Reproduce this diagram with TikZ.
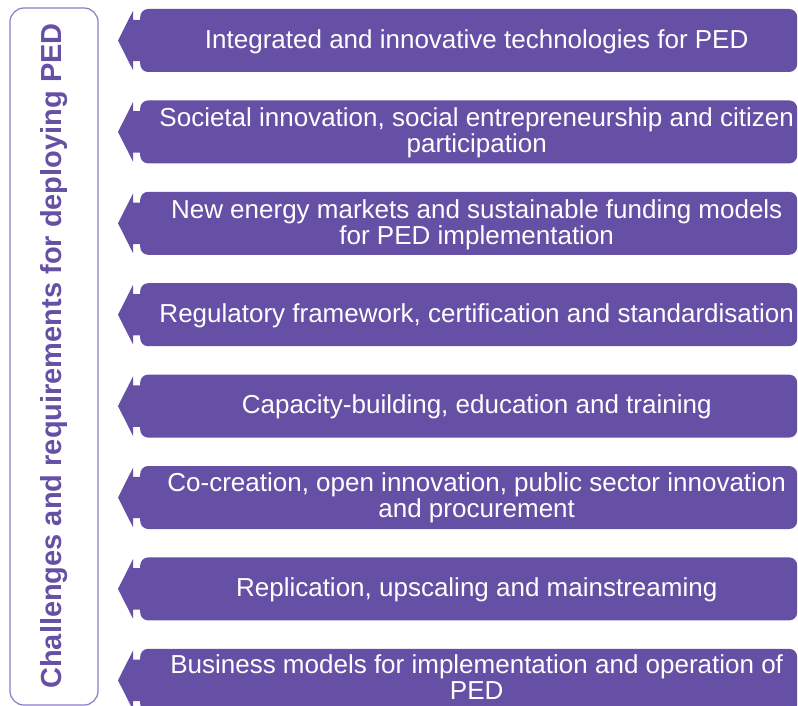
\documentclass[tikz,border=0pt]{standalone}
\usepackage{fontspec}
\setmainfont{Liberation Sans}
\usetikzlibrary{positioning}

\definecolor{pedpurple}{HTML}{6650A5}
\definecolor{pedframe}{HTML}{8A7BC8}

\tikzset{
	challenge/.style={fill=pedpurple, rounded corners=8pt, minimum width=657pt, minimum height=63pt,
		inner sep=0pt, anchor=west},
	challenge text/.style={text=white, align=center, inner sep=0pt, font=\fontsize{26}{26}\selectfont},
}

\begin{document}
\begin{tikzpicture}[x=1pt, y=-1pt]
		\useasboundingbox (0,0) rectangle (798,706);
		
		% frame with the vertical title
		\draw[pedframe, line width=1.2pt, rounded corners=14pt] (10,8) rectangle (98,705);
		\node[rotate=90, anchor=base, text=pedpurple, font=\fontsize{29}{32}\selectfont\bfseries] (title) at (61,356) {Challenges and requirements for deploying PED};
		
		% banners, top to bottom
		\node[challenge] (b1) at (140,40.5) {};
		\node[challenge, below=28pt of b1] (b2) {};
		\node[challenge, below=28pt of b2] (b3) {};
		\node[challenge, below=28pt of b3] (b4) {};
		\node[challenge, below=28pt of b4] (b5) {};
		\node[challenge, below=28pt of b5] (b6) {};
		\node[challenge, below=28pt of b6] (b7) {};
		\node[challenge, below=28pt of b7] (b8) {};
		
		% arrow heads on the left end of each banner
		\foreach \i in {1,...,8}
			\fill[pedpurple] ([shift={(-7pt,-2pt)}]b\i.north west) -- ([xshift=-22pt]b\i.west)
				-- ([shift={(-7pt,2pt)}]b\i.south west) -- ([shift={(-7pt,11pt)}]b\i.south west)
				-- ([shift={(2pt,11pt)}]b\i.south west) -- ([shift={(2pt,-11pt)}]b\i.north west)
				-- ([shift={(-7pt,-11pt)}]b\i.north west) -- cycle;
		
		% banner texts
		\node[challenge text] (t1) at ([xshift=8pt, yshift=-1pt]b1) {Integrated and innovative technologies for PED};
		\node[challenge text] (t2) at ([xshift=8pt, yshift=-1pt]b2) {Societal innovation, social entrepreneurship and citizen\\participation};
		\node[challenge text] (t3) at ([xshift=8pt, yshift=-1pt]b3) {New energy markets and sustainable funding models\\for PED implementation};
		\node[challenge text] (t4) at ([xshift=8pt, yshift=-1pt]b4) {Regulatory framework, certification and standardisation};
		\node[challenge text] (t5) at ([xshift=8pt, yshift=-1pt]b5) {Capacity-building, education and training};
		\node[challenge text] (t6) at ([xshift=8pt]b6) {Co-creation, open innovation, public sector innovation\\and procurement};
		\node[challenge text] (t7) at ([xshift=8pt, yshift=-1pt]b7) {Replication, upscaling and mainstreaming};
		\node[challenge text] (t8) at ([xshift=8pt, yshift=3pt]b8) {Business models for implementation and operation of\\PED};
	\end{tikzpicture}
\end{document}
